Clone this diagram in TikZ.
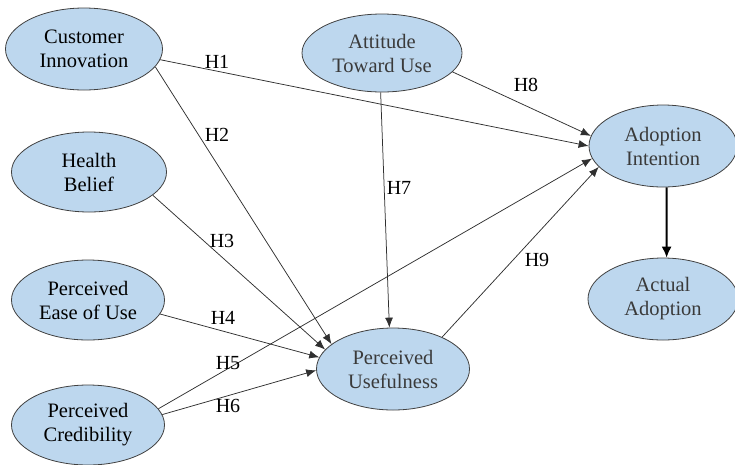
\documentclass[tikz,border=0pt]{standalone}
\usepackage{fontspec}
\setmainfont{Liberation Serif}
\usetikzlibrary{shapes.geometric,arrows.meta}
\definecolor{cfill}{HTML}{BDD7EE}
\definecolor{cborder}{HTML}{404040}
\definecolor{cline}{HTML}{303030}
\definecolor{ctextg}{HTML}{3A3A3A}
\tikzset{
  construct/.style={ellipse,draw=cborder,line width=0.8pt,fill=cfill,inner sep=0pt,
    align=center,text=black,font=\rmfamily\fontsize{20.5}{24}\selectfont},
  link/.style={draw=cline,line width=0.75pt,-{Latex[length=10pt,width=8pt]}},
  thicklink/.style={draw=black,line width=1.8pt,-{Latex[length=11pt,width=10pt]}},
  hlabel/.style={font=\rmfamily\fontsize{20}{22}\selectfont,inner sep=1pt}
}
\begin{document}
\begin{tikzpicture}[x=1pt,y=-1pt]
\useasboundingbox (0,0) rectangle (735,464);
\node[construct,minimum width=157pt,minimum height=82pt] (ci) at (84,49) {Customer\\Innovation};
\node[construct,minimum width=155pt,minimum height=80pt] (hb) at (89,172) {Health\\Belief};
\node[construct,minimum width=153pt,minimum height=80pt] (eou) at (88,300) {Perceived\\Ease of Use};
\node[construct,minimum width=153pt,minimum height=80pt] (pc) at (88,425) {Perceived\\Credibility};
\node[construct,minimum width=160pt,minimum height=78pt,text=ctextg] (atu) at (382,53) {Attitude\\Toward Use};
\node[construct,minimum width=153pt,minimum height=82pt,text=ctextg] (pu) at (393,369) {Perceived\\Usefulness};
\node[construct,minimum width=148pt,minimum height=82pt,text=ctextg] (ai) at (663,146) {Adoption\\Intention};
\node[construct,minimum width=150pt,minimum height=82pt,text=ctextg] (aa) at (663,299) {Actual\\Adoption};

\draw[link] (ci.-8) -- (ai.180);
\draw[link] (ci.-14) -- (pu.158);
\draw[link] (hb.-20) -- (pu.164);
\draw[link] (eou.-11) -- (pu.171);
\draw[link] (pc.13) -- (ai.190);
\draw[link] (pc.8) -- (pu.181);
\draw[link] (atu.-92) -- (pu.95);
\draw[link] (atu.-15) -- (ai.172);
\draw[link] (pu.33) -- (ai.198);
\draw[thicklink] (ai.-85) -- (aa.85);

\node[hlabel] (h1) at (217,62) {H1};
\node[hlabel] (h2) at (217,135) {H2};
\node[hlabel] (h3) at (222,241) {H3};
\node[hlabel] (h4) at (223,318) {H4};
\node[hlabel] (h5) at (228,363) {H5};
\node[hlabel] (h6) at (228,406) {H6};
\node[hlabel] (h7) at (399,188) {H7};
\node[hlabel] (h8) at (526,85) {H8};
\node[hlabel] (h9) at (537,260) {H9};
\end{tikzpicture}
\end{document}
